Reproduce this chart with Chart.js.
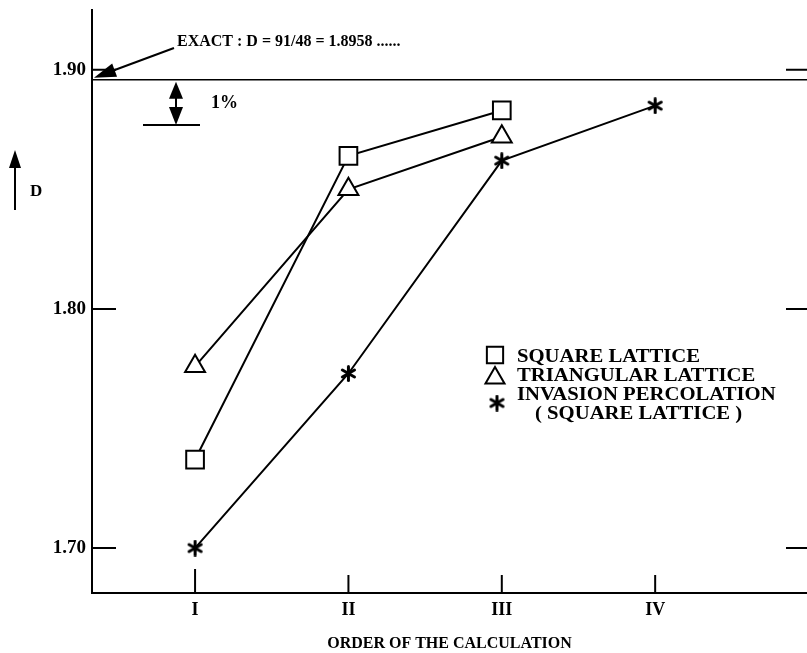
<!DOCTYPE html>
<html>
<head>
<meta charset="utf-8">
<script src="https://cdn.jsdelivr.net/npm/chart.js@4/dist/chart.umd.min.js"></script>
<style>
  html, body { margin: 0; padding: 0; background: #fff; }
  #wrap { width: 807px; height: 653px; }
</style>
</head>
<body>
<div id="wrap"><canvas id="chart" width="807" height="653"></canvas></div>
<script>
// order of the calculation (x) and the measured fractal dimension D
const categories = ['I', 'II', 'III', 'IV'];
const orderX = [1, 2, 3, 4];
const squareD = [1.737, 1.864, 1.883];
const triangleD = [1.776, 1.850, 1.872];
const invasionD = [1.700, 1.773, 1.862, 1.885];
const exactD = 91 / 48;
const yTicks = [1.70, 1.80, 1.90];

const X_MIN = 0.328, X_MAX = 4.99;
const Y_MIN = 1.6812, Y_MAX = 1.925;
const SERIF = '"Liberation Serif", "DejaVu Serif", serif';

const pts = (vals) => vals.map((v, i) => ({ x: orderX[i], y: v }));

// six-armed asterisk used as point style
function makeAsterisk(size) {
    const c = document.createElement('canvas');
    c.width = size; c.height = size;
    const g = c.getContext('2d');
    const m = size / 2, r = size / 2 - 1.5;
    g.strokeStyle = '#000';
    g.lineWidth = 3;
    g.lineCap = 'round';
    for (let k = 0; k < 3; k++) {
        const ang = Math.PI / 2 + k * Math.PI / 3;
        g.beginPath();
        g.moveTo(m + r * Math.cos(ang), m + r * Math.sin(ang));
        g.lineTo(m - r * Math.cos(ang), m - r * Math.sin(ang));
        g.stroke();
    }
    return c;
}
const asterisk = makeAsterisk(17);

function arrowHead(ctx, tx, ty, ang, len, wid) {
    ctx.beginPath();
    ctx.moveTo(tx, ty);
    ctx.lineTo(tx - len * Math.cos(ang) + wid * Math.sin(ang), ty - len * Math.sin(ang) - wid * Math.cos(ang));
    ctx.lineTo(tx - len * Math.cos(ang) - wid * Math.sin(ang), ty - len * Math.sin(ang) + wid * Math.cos(ang));
    ctx.closePath();
    ctx.fill();
}

// wide bold text like the original typesetting
function wideText(ctx, text, x, y, stretch) {
    ctx.save();
    ctx.translate(x, y);
    ctx.scale(stretch, 1);
    ctx.fillText(text, 0, 0);
    ctx.restore();
}

const extras = {
    id: 'extras',
    afterDraw(chart) {
        const ctx = chart.ctx;
        const xs = chart.scales.x, ys = chart.scales.y;
        const a = chart.chartArea;
        ctx.save();
        ctx.strokeStyle = '#000';
        ctx.fillStyle = '#000';
        ctx.lineWidth = 2;

        // y ticks, inward on both sides
        yTicks.forEach(v => {
            const py = ys.getPixelForValue(v);
            ctx.beginPath();
            ctx.moveTo(a.left, py); ctx.lineTo(a.left + 24, py);
            ctx.moveTo(a.right - 21, py); ctx.lineTo(a.right, py);
            ctx.stroke();
        });
        // x ticks, upward
        orderX.forEach((v, i) => {
            const px = xs.getPixelForValue(v);
            ctx.beginPath();
            ctx.moveTo(px, a.bottom); ctx.lineTo(px, a.bottom - (i === 0 ? 24 : 18));
            ctx.stroke();
        });

        // exact value annotation
        ctx.font = 'bold 16px ' + SERIF;
        ctx.textBaseline = 'middle';
        ctx.textAlign = 'left';
        ctx.fillText('EXACT : D = 91/48 = 1.8958 ......', 177, 42);
        const ey = ys.getPixelForValue(exactD);
        ctx.beginPath();
        ctx.moveTo(174, 48); ctx.lineTo(112, 71);
        ctx.stroke();
        arrowHead(ctx, a.left + 2, ey - 2, Math.atan2(ey - 2 - 48, a.left + 2 - 174), 22, 7);

        // 1 % band
        const x1 = 176;
        const yLow = ys.getPixelForValue(exactD * 0.99);
        ctx.beginPath();
        ctx.moveTo(x1, ey + 10); ctx.lineTo(x1, yLow - 10);
        ctx.moveTo(143, yLow); ctx.lineTo(200, yLow);
        ctx.stroke();
        arrowHead(ctx, x1, ey + 2, -Math.PI / 2, 17, 7);
        arrowHead(ctx, x1, yLow, Math.PI / 2, 18, 7);
        ctx.font = 'bold 18px ' + SERIF;
        ctx.fillText('1%', 211, (ey + yLow) / 2 + 1);

        // D arrow
        ctx.beginPath();
        ctx.moveTo(15, 210); ctx.lineTo(15, 162);
        ctx.stroke();
        arrowHead(ctx, 15, 150, -Math.PI / 2, 18, 6);
        ctx.font = 'bold 17px ' + SERIF;
        ctx.fillText('D', 30, 192);

        // legend
        const lx = 495;
        const rows = [
            { text: 'SQUARE LATTICE', y: 357, style: 'rect', r: 11.5, mx: lx, my: 355 },
            { text: 'TRIANGULAR LATTICE', y: 376, style: 'triangle', r: 11, mx: lx, my: 378 },
            { text: 'INVASION PERCOLATION', y: 395, style: asterisk, r: 8, mx: lx + 2, my: 403 },
            { text: '( SQUARE LATTICE )', y: 414, style: null, tx: 535 }
        ];
        ctx.font = 'bold 18px ' + SERIF;
        rows.forEach(r => {
            ctx.fillStyle = '#000';
            wideText(ctx, r.text, r.tx || 517, r.y, 1.15);
            if (r.style) {
                ctx.fillStyle = '#fff';
                ctx.lineWidth = 2;
                Chart.helpers.drawPoint(ctx, { pointStyle: r.style, radius: r.r, rotation: 0, borderWidth: 2 }, r.mx, r.my);
            }
        });
        ctx.restore();
    }
};

const common = {
    borderColor: '#000',
    borderWidth: 2,
    pointBorderColor: '#000',
    pointBackgroundColor: '#fff',
    pointBorderWidth: 2,
    tension: 0,
    fill: false
};

new Chart(document.getElementById('chart'), {
    type: 'line',
    data: {
        datasets: [
            Object.assign({}, common, {
                label: 'EXACT', data: [{ x: X_MIN, y: exactD }, { x: X_MAX, y: exactD }],
                borderWidth: 1.5, pointRadius: 0
            }),
            Object.assign({}, common, {
                label: 'SQUARE LATTICE', data: pts(squareD), pointStyle: 'rect', pointRadius: 12.5
            }),
            Object.assign({}, common, {
                label: 'TRIANGULAR LATTICE', data: pts(triangleD), pointStyle: 'triangle', pointRadius: 11.5
            }),
            Object.assign({}, common, {
                label: 'INVASION PERCOLATION ( SQUARE LATTICE )', data: pts(invasionD),
                pointStyle: asterisk, pointRadius: 8
            })
        ]
    },
    options: {
        responsive: false,
        animation: false,
        layout: { autoPadding: false, padding: { top: 10, right: 0, bottom: 0, left: 0 } },
        plugins: {
            legend: { display: false },
            tooltip: { enabled: false }
        },
        scales: {
            x: {
                type: 'linear',
                min: X_MIN,
                max: X_MAX,
                afterBuildTicks: (s) => { s.ticks = orderX.map(v => ({ value: v })); },
                afterFit: (s) => { s.height = 60; },
                grid: { display: false, drawTicks: false },
                border: { display: true, color: '#000', width: 2 },
                ticks: {
                    padding: 7,
                    color: '#000',
                    font: { family: SERIF, size: 18, weight: 'bold' },
                    callback: (v) => categories[orderX.indexOf(v)] || ''
                },
                title: {
                    display: true,
                    text: 'ORDER OF THE CALCULATION',
                    color: '#000',
                    font: { family: SERIF, size: 16, weight: 'bold' },
                    padding: { top: 0, bottom: 0 }
                }
            },
            y: {
                min: Y_MIN,
                max: Y_MAX,
                afterBuildTicks: (s) => { s.ticks = yTicks.map(v => ({ value: v })); },
                afterFit: (s) => { s.width = 92; s.paddingTop = 0; },
                grid: { display: false, drawTicks: false },
                border: { display: true, color: '#000', width: 2 },
                ticks: {
                    padding: 6,
                    color: '#000',
                    font: { family: SERIF, size: 19, weight: 'bold', lineHeight: 0.5 },
                    callback: (v) => v.toFixed(2)
                }
            }
        }
    },
    plugins: [extras]
});
</script>
</body>
</html>
